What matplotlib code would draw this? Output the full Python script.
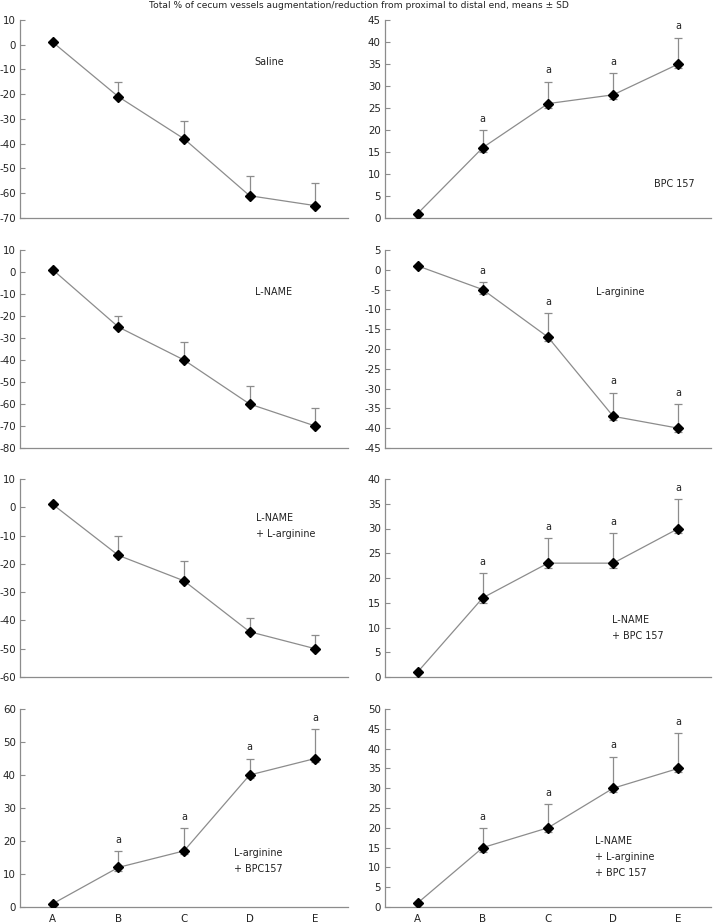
import matplotlib
matplotlib.use("Agg")
import matplotlib.pyplot as plt
import numpy as np

plt.rcParams['font.family'] = ['DejaVu Sans']
plt.rcParams['axes.unicode_minus'] = False

categories = ["A", "B", "C", "D", "E"]

title = "Total % of cecum vessels augmentation/reduction from proximal to distal end, means \u00b1 SD"

# panel data (order: row by row, left then right)
names = ["Saline", "BPC 157", "L-NAME", "L-arginine",
         "L-NAME\n+ L-arginine", "L-NAME\n+ BPC 157",
         "L-arginine\n+ BPC157", "L-NAME\n+ L-arginine\n+ BPC 157"]

saline_mean = [1, -21, -38, -61, -65]
saline_upper = [np.nan, -15, -31, -53, -56]
saline_lower = [np.nan, -21, -38, -61, -65]

bpc_mean = [1, 16, 26, 28, 35]
bpc_upper = [np.nan, 20, 31, 33, 41]
bpc_lower = [np.nan, 15, 25, 27, 34]

lname_mean = [1, -25, -40, -60, -70]
lname_upper = [np.nan, -20, -32, -52, -62]
lname_lower = [np.nan, -25, -40, -60, -70]

larg_mean = [1, -5, -17, -37, -40]
larg_upper = [np.nan, -3, -11, -31, -34]
larg_lower = [np.nan, -6, -18, -38, -41]

lname_larg_mean = [1, -17, -26, -44, -50]
lname_larg_upper = [np.nan, -10, -19, -39, -45]
lname_larg_lower = [np.nan, -17, -26, -44, -50]

lname_bpc_mean = [1, 16, 23, 23, 30]
lname_bpc_upper = [np.nan, 21, 28, 29, 36]
lname_bpc_lower = [np.nan, 15, 22, 22, 29]

larg_bpc_mean = [1, 12, 17, 40, 45]
larg_bpc_upper = [np.nan, 17, 24, 45, 54]
larg_bpc_lower = [np.nan, 11, 16, 39, 44]

all3_mean = [1, 15, 20, 30, 35]
all3_upper = [np.nan, 20, 26, 38, 44]
all3_lower = [np.nan, 14, 19, 29, 34]

significant = [False, True, False, True, False, True, True, True]

y_limits = [(-70, 10), (0, 45), (-80, 10), (-45, 5), (-60, 10), (0, 40), (0, 60), (0, 50)]
y_steps = [10, 5, 10, 5, 10, 5, 10, 5]

means = [saline_mean, bpc_mean, lname_mean, larg_mean, lname_larg_mean,
         lname_bpc_mean, larg_bpc_mean, all3_mean]
uppers = [saline_upper, bpc_upper, lname_upper, larg_upper, lname_larg_upper,
          lname_bpc_upper, larg_bpc_upper, all3_upper]
lowers = [saline_lower, bpc_lower, lname_lower, larg_lower, lname_larg_lower,
          lname_bpc_lower, larg_bpc_lower, all3_lower]

label_pos = [(0.716, 0.788), (0.825, 0.172), (0.716, 0.788), (0.647, 0.788),
             (0.72, 0.765), (0.696, 0.245), (0.652, 0.230), (0.644, 0.253)]

fig = plt.figure(figsize=(7.18, 9.24), dpi=100)
W, H = 718, 924
col_x = [(20, 328), (385, 326)]
row_y = [(20, 218), (250, 448), (479, 677), (709, 907)]

gray = "#8c8c8c"
fs = 6.9
tfs = 7.4

for i in range(8):
    r, c = divmod(i, 2)
    x0, w = col_x[c]
    yt, yb = row_y[r]
    ax = fig.add_axes([x0 / W, 1 - yb / H, w / W, (yb - yt) / H])
    x = np.arange(len(categories))
    m = np.array(means[i], dtype=float)
    up = np.array(uppers[i], dtype=float)
    lo = np.array(lowers[i], dtype=float)
    yerr = np.vstack([np.nan_to_num(m - lo), np.nan_to_num(up - m)])
    ax.errorbar(x[1:], m[1:], yerr=yerr[:, 1:], fmt="none", ecolor=gray,
                elinewidth=0.9, capsize=3, capthick=0.9, zorder=2)
    ax.plot(x, m, color=gray, lw=0.9, zorder=3)
    ax.plot(x, m, linestyle="none", marker="D", color="black", markersize=5.5, zorder=4)
    if significant[i]:
        for xi in range(1, 5):
            ax.annotate("a", (x[xi], up[xi]), xytext=(0, 8), textcoords="offset points",
                        ha="center", va="center", fontsize=fs, color="#222222")
    lo_lim, hi_lim = y_limits[i]
    ax.set_ylim(lo_lim, hi_lim)
    ax.set_yticks(np.arange(lo_lim, hi_lim + 0.1, y_steps[i]))
    ax.set_xlim(-0.5, 4.5)
    ax.set_xticks(x)
    if r == 3:
        ax.set_xticklabels(categories)
    else:
        ax.set_xticklabels([])
    for s in ["top", "right"]:
        ax.spines[s].set_visible(False)
    for s in ["left", "bottom"]:
        ax.spines[s].set_color(gray)
        ax.spines[s].set_linewidth(0.9)
    ax.tick_params(axis="y", direction="in", length=3.5, width=0.8, color=gray,
                   labelsize=tfs, labelcolor="#222222", pad=3)
    ax.tick_params(axis="x", length=0, labelsize=tfs, labelcolor="#222222", pad=5)
    lx, ly = label_pos[i]
    ax.text(lx, ly, names[i], transform=ax.transAxes, ha="left", va="center",
            fontsize=fs, color="#222222", linespacing=1.75)

fig.text(0.5, 1 - 6 / H, title, ha="center", va="center", fontsize=6.6, color="#222222")

fig.savefig("out.png", dpi=100)
